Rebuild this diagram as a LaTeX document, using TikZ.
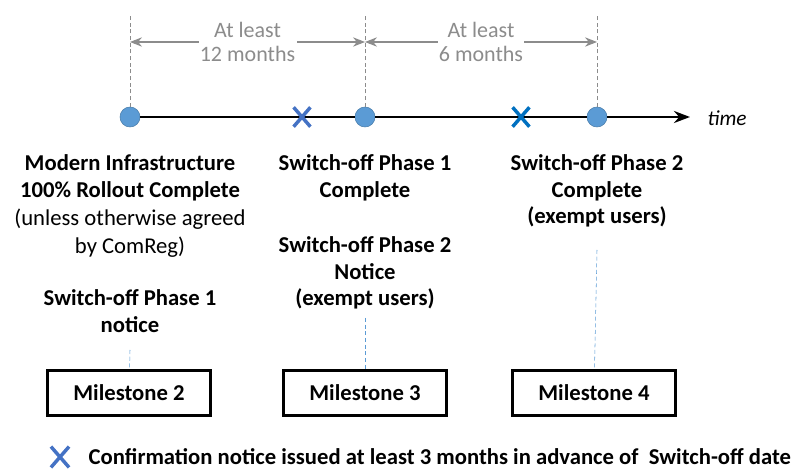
\documentclass[tikz,border=0pt]{standalone}
\usepackage{fontspec}
\setmainfont{Carlito}
\usetikzlibrary{arrows.meta,shapes.misc}

\definecolor{dotblue}{HTML}{5B9BD5}
\definecolor{crossA}{HTML}{4472C4}
\definecolor{crossB}{HTML}{0070C0}
\definecolor{dimgray}{HTML}{8C8C8C}

\begin{document}
\begin{tikzpicture}[x=0.75pt,y=-0.75pt,
    font=\fontsize{17}{20}\selectfont]
\useasboundingbox (0,0) rectangle (793,470);

% timeline
\begin{scope}[every node/.style={circle,fill=dotblue,draw=dotblue!80!black,thin,inner sep=0pt,minimum size=15pt}]
    \node (Mtwo) at (130,117) {};
    \node (Mthree) at (365,117) {};
    \node (Mfour) at (597,117) {};
\end{scope}
\coordinate (TimeEnd) at (690,117);
\node[anchor=west,font=\fontsize{16}{20}\selectfont\itshape] (Time) at (703,118) {time};
\begin{scope}[line width=2pt,>={Stealth[length=12pt,width=9pt]}]
    \draw (Mtwo) -- (Mthree);
    \draw (Mthree) -- (Mfour);
    \draw[->] (Mfour) -- (TimeEnd);
\end{scope}
\begin{scope}[every node/.style={cross out,draw,line width=2.6pt,minimum width=10pt,minimum height=12pt,inner sep=0pt}]
    \node[crossA] (NoticeA) at (302,117) {};
    \node[crossB] (NoticeB) at (521,117) {};
\end{scope}

% guide lines and spans
\coordinate (TopA) at (130,15);
\coordinate (TopB) at (365,15);
\coordinate (TopC) at (597,15);
\coordinate (SpanA) at (130,42);
\coordinate (SpanB) at (365,42);
\coordinate (SpanC) at (597,42);
\begin{scope}[dimgray,densely dashed,thin]
    \draw (Mtwo) -- (TopA);
    \draw (Mthree) -- (TopB);
    \draw (Mfour) -- (TopC);
\end{scope}
\begin{scope}[>={Stealth[length=9pt,width=7pt]},
              every node/.style={fill=white,align=center,text=dimgray,inner sep=1pt,
                                 font=\fontsize{16.5}{17.5}\selectfont},
              every edge/.style={draw=dimgray,thick}]
    \path [<->] (SpanA) edge node {At least\\12 months} (SpanB);
    \path [<->] (SpanB) edge node {At least\\6 months} (SpanC);
\end{scope}

% labels
\begin{scope}[every node/.style={align=center,font=\fontsize{17}{20}\selectfont\bfseries}]
    \node[anchor=north] (RollText) at (130,150) {Modern Infrastructure\\100\% Rollout Complete\\[1pt]
        {\mdseries (unless otherwise agreed}\\[1pt] {\mdseries by ComReg)}};
    \node[anchor=north] (PhaseOneNotice) at (130,285) {Switch-off Phase 1\\notice};
    \node[anchor=north] (PhaseOneDone) at (365,150) {Switch-off Phase 1\\Complete};
    \node[anchor=north] (PhaseTwoNotice) at (365,232) {Switch-off Phase 2\\Notice\\(exempt users)};
    \node[anchor=north] (PhaseTwoDone) at (597,150) {Switch-off Phase 2\\Complete\\(exempt users)};
\end{scope}

% milestones
\begin{scope}[every node/.style={draw,line width=2.3pt,minimum width=122pt,minimum height=34pt,font=\fontsize{17}{20}\selectfont\bfseries}]
    \node (BoxTwo) at (129,393) {Milestone 2};
    \node (BoxThree) at (365,393) {Milestone 3};
    \node (BoxFour) at (594,393) {Milestone 4};
\end{scope}
\begin{scope}[dotblue,densely dashed,thin]
    \draw (PhaseOneNotice.south |- 0,350) -- (BoxTwo);
    \draw (PhaseTwoNotice.south |- 0,318) -- (BoxThree);
    \draw (PhaseTwoDone.south |- 0,250) -- (BoxFour);
\end{scope}

% legend
\node[cross out,draw=crossA,line width=2.6pt,minimum width=11pt,minimum height=13pt,inner sep=0pt] (KeyCross) at (60,457) {};
\node[anchor=west,font=\fontsize{17}{20}\selectfont\bfseries] (KeyText) at (84,457)
    {Confirmation notice issued at least 3 months in advance of\ \ Switch-off date};
\end{tikzpicture}
\end{document}
